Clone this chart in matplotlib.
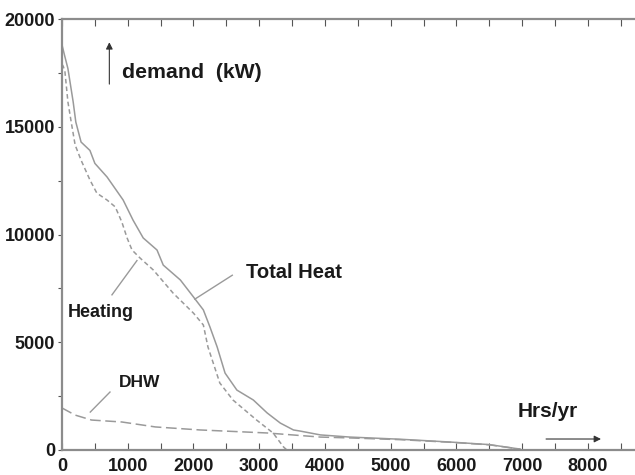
import matplotlib
matplotlib.use("Agg")
import matplotlib.pyplot as plt
from matplotlib.ticker import MultipleLocator

plt.rcParams['font.family'] = ['Liberation Sans', 'DejaVu Sans']

# Total heat demand duration curve (hours, kW)
total_hours = [0, 40, 90, 170, 210, 290, 425, 500, 685, 930, 1080, 1235, 1445, 1540, 1800,
               2000, 2150, 2250, 2360, 2480, 2660, 2910, 3120, 3320, 3520, 3620, 3930, 4380,
               5140, 5900, 6500, 6970]
total_kw = [18800, 18300, 17700, 16150, 15220, 14290, 13900, 13300, 12670, 11600, 10670, 9840,
            9280, 8580, 7890, 7100, 6500, 5710, 4780, 3570, 2780, 2320, 1720, 1250, 930, 880,
            700, 600, 500, 370, 250, 40]

# Space heating demand duration curve
heating_hours = [0, 20, 45, 90, 140, 200, 290, 425, 530, 685, 810, 910, 990, 1065, 1190, 1390,
                 1690, 2000, 2150, 2220, 2400, 2600, 2960, 3210, 3370, 3420]
heating_kw = [17900, 17800, 17540, 16150, 15220, 14150, 13450, 12530, 11920, 11600, 11280, 10580,
              9840, 9280, 8900, 8350, 7280, 6350, 5800, 4780, 3110, 2320, 1390, 790, 140, 0]

# Domestic hot water demand duration curve
dhw_hours = [0, 200, 450, 910, 1420, 2100, 3120, 3930, 4380, 5140, 5900, 6500, 6970]
dhw_kw = [1950, 1620, 1390, 1300, 1070, 930, 790, 600, 560, 480, 360, 240, 40]

fig = plt.figure(figsize=(6.35, 4.75), dpi=100)
ax = fig.add_axes([62/635, 25/475, 1 - 62/635, (450 - 19)/475])

line_col = '#9a9a9a'
ax.plot(total_hours, total_kw, color=line_col, lw=1.1, ls='-')
ax.plot(heating_hours, heating_kw, color=line_col, lw=1.1, ls=(0, (3, 2)))
ax.plot(dhw_hours, dhw_kw, color=line_col, lw=1.1, ls=(0, (7, 3)))

ax.set_xlim(0, 8715)
ax.set_ylim(0, 20000)

ax.xaxis.set_major_locator(MultipleLocator(1000))
ax.xaxis.set_minor_locator(MultipleLocator(500))
ax.yaxis.set_major_locator(MultipleLocator(5000))
ax.yaxis.set_minor_locator(MultipleLocator(2500))

for s in ['left', 'bottom', 'top']:
    ax.spines[s].set_color('#8c8c8c')
    ax.spines[s].set_linewidth(1.6)
ax.spines['right'].set_visible(False)

ax.tick_params(axis='x', which='both', direction='in', top=True, bottom=True,
               length=5, width=0.8, color='#555555', labelsize=13, pad=6)
ax.tick_params(axis='y', which='both', direction='out', left=True, right=True,
               length=3, width=0.8, color='#555555', labelsize=13, pad=2)
ax.set_xticks([0, 1000, 2000, 3000, 4000, 5000, 6000, 7000, 8000])
ax.set_xticklabels(['0', '1000', '2000', '3000', '4000', '5000', '6000', '7000', '8000'],
                   fontweight='bold', color='#1a1a1a')
ax.set_yticks([0, 5000, 10000, 15000, 20000])
ax.set_yticklabels(['0', '5000', '10000', '15000', '20000'], fontweight='bold', color='#1a1a1a')

txt_col = '#1a1a1a'
# demand label and arrow
ax.annotate('', xy=(720, 19050), xytext=(720, 16850),
            arrowprops=dict(arrowstyle='-|>', color='#333333', lw=0.8, mutation_scale=10))
ax.text(920, 17530, 'demand  (kW)', fontsize=15.3, fontweight='bold', color=txt_col, va='center')

# Total Heat
ax.text(2800, 8250, 'Total Heat', fontsize=14.5, fontweight='bold', color=txt_col, va='center')
ax.plot([2590, 2020], [8110, 7000], color=line_col, lw=1.0)

# Heating
ax.text(80, 6370, 'Heating', fontsize=13, fontweight='bold', color=txt_col, va='center')
ax.plot([760, 1140], [7200, 8790], color=line_col, lw=1.0)

# DHW
ax.text(860, 3130, 'DHW', fontsize=12.5, fontweight='bold', color=txt_col, va='center')
ax.plot([430, 730], [1760, 2690], color=line_col, lw=1.0)

# Hrs/yr label and arrow
ax.text(6930, 1770, 'Hrs/yr', fontsize=15, fontweight='bold', color=txt_col, va='center')
ax.annotate('', xy=(8240, 510), xytext=(7320, 510),
            arrowprops=dict(arrowstyle='-|>', color='#333333', lw=0.8, mutation_scale=10))

fig.savefig('out.png', dpi=100)
